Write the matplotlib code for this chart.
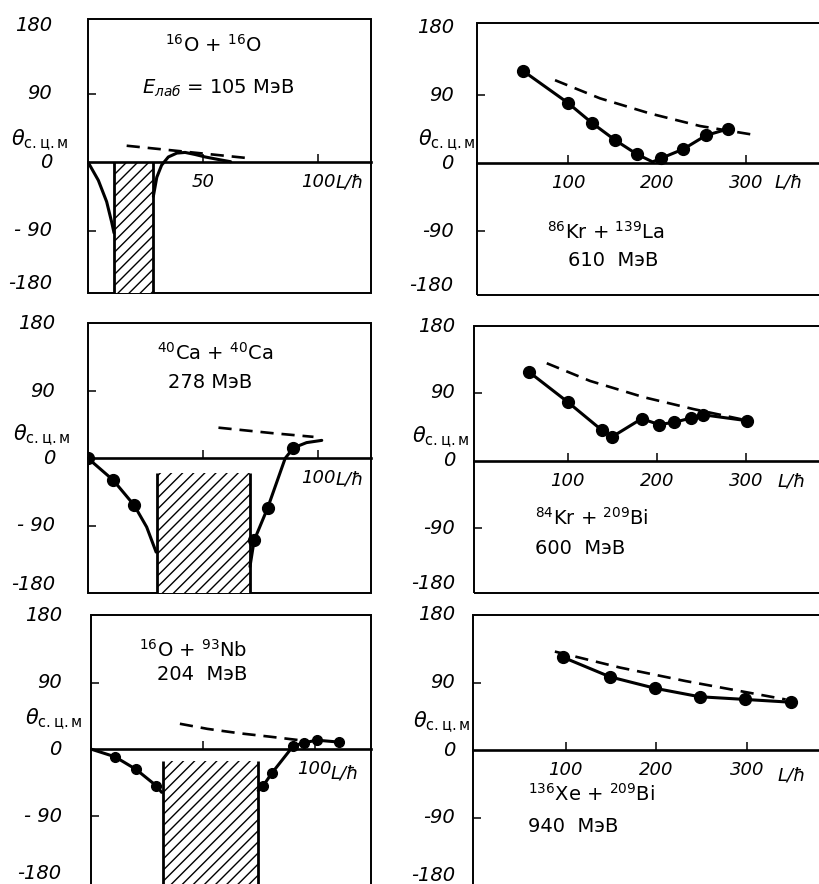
import numpy as np
import matplotlib.pyplot as plt
from matplotlib.transforms import offset_copy
from matplotlib.patches import Rectangle

plt.rcParams['font.family'] = ['DejaVu Sans']
plt.rcParams['mathtext.fontset'] = 'dejavusans'
plt.rcParams['hatch.linewidth'] = 1.0

W, H = 819, 884

# -----------------------------
# Data (L in units of hbar, theta in degrees)
# -----------------------------
# 16O + 16O, 105 MeV
p1_left_L = [0, 4.5, 8.1, 10.3, 11.3]
p1_left_th = [0, -24, -52, -79, -93]
p1_right_L = [28.4, 29.9, 32.0, 34.9, 38.6, 42.2, 46.5, 51.0, 56.7, 62.0]
p1_right_th = [-45, -20, -4, 6.7, 11.8, 12.7, 10, 6.7, 3.4, 0.5]
p1_dash_L = [16.8, 71.2]
p1_dash_th = [21.5, 4.7]
p1_hatch = (11.3, 28.4, 0)

# 40Ca + 40Ca, 278 MeV
p3_left_L = [0, 11, 20.1, 25.5, 29.6]
p3_left_th = [0, -29.4, -63, -92, -125.5]
p3_left_dots_L = [0, 11, 20.1]
p3_left_dots_th = [0, -29.4, -63]
p3_right_L = [70.4, 72.2, 78.1, 85.7, 89.3, 95, 101.6]
p3_right_th = [-145, -110, -66.3, 0, 14, 21, 24]
p3_right_dots_L = [72.2, 78.1, 89.3]
p3_right_dots_th = [-110, -66.3, 14]
p3_dash_L = [56.7, 80, 98]
p3_dash_th = [41, 33.7, 28.7]
p3_hatch = (29.9, 70.4, -20)

# 16O + 93Nb, 204 MeV
p5_left_L = [0, 10.5, 19.9, 28.9, 31.4]
p5_left_th = [0, -10.1, -27, -48.9, -58]
p5_left_dots_L = [10.5, 19.9, 28.9]
p5_left_dots_th = [-10.1, -27, -48.9]
p5_right_L = [74.7, 77, 81, 90.4, 95.2, 101, 111]
p5_right_th = [-55.7, -48.9, -31.5, 4.4, 8.7, 12.3, 9.7]
p5_dash_L = [39.6, 52, 66.5, 80, 94]
p5_dash_th = [34.4, 27.5, 21.5, 17, 12]
p5_hatch = (32.1, 74.7, -16)

# 86Kr + 139La, 610 MeV
p2_dots_L = [48.6, 99.3, 126.4, 152.7, 177.1, 204.2, 229.7, 255.2, 279.7]
p2_dots_th = [122.6, 80.2, 53.7, 30.8, 12.3, 6.6, 18.9, 37, 45.4]
p2_curve_L = [48.6, 99.3, 126.4, 152.7, 177.1, 195, 204.2, 229.7, 255.2, 279.7]
p2_curve_th = [122.6, 80.2, 53.7, 30.8, 12.3, 2, 6.6, 18.9, 37, 45.4]
p2_dash_L = [85, 135.7, 192, 248.5, 310.5]
p2_dash_th = [110, 86, 66, 49.4, 37.5]

# 84Kr + 209Bi, 600 MeV
p4_dots_L = [56.6, 100, 138, 150, 183, 202.4, 219.5, 238.2, 252, 300.7]
p4_dots_th = [117.9, 78, 40.8, 31.8, 55.8, 48, 51, 56.6, 61, 53.2]
p4_dash_L = [76.5, 125, 184.9, 241, 297]
p4_dash_th = [129.5, 106, 84.5, 68.6, 54.5]

# 136Xe + 209Bi, 940 MeV
p6_dots_L = [97, 149, 199, 248, 298.5, 348.7]
p6_dots_th = [123.7, 97.6, 82.3, 71.1, 67.5, 63.8]
p6_dash_L = [88, 159.9, 232.5, 306.5, 343]
p6_dash_th = [131.3, 110, 92, 75.6, 67.5]

y_labels_left = ['180', '90', '0', '- 90', '-180']
y_labels_right = ['180', '90', '0', '-90', '-180']
y_values = [180, 90, 0, -90, -180]

# -----------------------------
# Layout (pixel boxes of the six panels)
# -----------------------------
fig = plt.figure(figsize=(W / 100, H / 100), dpi=100)


def make_axes(x0, y0, x1, y1, xlim, ylim):
    ax = fig.add_axes([x0 / W, 1 - y1 / H, (x1 - x0) / W, (y1 - y0) / H])
    ax.set_xlim(*xlim)
    ax.set_ylim(*ylim)
    for s in ['top', 'right', 'left']:
        ax.spines[s].set_visible(False)
    ax.spines['bottom'].set_position(('data', 0))
    ax.spines['bottom'].set_linewidth(1.9)
    ax.add_patch(Rectangle((0, 0), 1, 1, transform=ax.transAxes, fill=False,
                           lw=1.4, ec='black', clip_on=False))
    ax.set_yticks([-90, 90], ['', ''])
    ax.tick_params(axis='y', direction='in', length=6, width=1.1)
    ax.tick_params(axis='x', direction='in', length=6, width=1.1, pad=8,
                   labelsize=13)
    return ax


def y_labels(ax, labels, off, bottom_gap=12):
    tr = offset_copy(ax.get_yaxis_transform(), fig=fig, x=-off, y=0, units='dots')
    lo, hi = ax.get_ylim()
    for v, s in zip(y_values, labels):
        ax.text(0, np.clip(v, lo + bottom_gap, hi), s, transform=tr, ha='right',
                va='center', fontsize=14, fontstyle='italic')


def ptext(x, y, s, size=14, ha='center', **kw):
    fig.text(x / W, 1 - y / H, s, ha=ha, va='center', fontsize=size, **kw)


def hatch(ax, h):
    lo = ax.get_ylim()[0]
    ax.fill_between([h[0], h[1]], lo, h[2], facecolor='white', edgecolor='black',
                    hatch='///', lw=0, zorder=2)
    ax.vlines([h[0], h[1]], lo, h[2], color='black', lw=2, zorder=3)


def solid(ax, L, th):
    ax.plot(L, th, color='black', lw=2.2, zorder=4, solid_capstyle='round')


def dots(ax, L, th, ms=8.5):
    ax.plot(L, th, 'o', color='black', ms=ms, zorder=5)


def dashed(ax, L, th):
    ax.plot(L, th, color='black', lw=1.9, ls=(0, (5, 3)), zorder=4)


theta_lbl = r'$\theta_{\mathrm{с.ц.м}}$'

# -----------------------------
# Panel 1: 16O + 16O
# -----------------------------
ax1 = make_axes(88, 19, 371, 293, (0, 123), (-172, 188))
ax1.set_xticks([50, 100], ['50', '100'], fontstyle='italic')
hatch(ax1, p1_hatch)
solid(ax1, p1_left_L, p1_left_th)
solid(ax1, p1_right_L, p1_right_th)
dashed(ax1, p1_dash_L, p1_dash_th)
y_labels(ax1, y_labels_left, 36)
ptext(40, 140, theta_lbl, 15)
ptext(350, 183, 'L/ħ', 13, fontstyle='italic')
ptext(213, 45, r'$^{16}$O + $^{16}$O', 14)
ptext(218, 88, r'$E_{\mathit{лаб}}$ = 105 МэВ', 14)

# -----------------------------
# Panel 2: 86Kr + 139La
# -----------------------------
ax2 = make_axes(476.7, 23, 830, 295, (-3.3, 395), (-174, 185.6))
ax2.set_xticks([100, 200, 300], ['100', '200', '300'], fontstyle='italic')
solid(ax2, p2_curve_L, p2_curve_th)
dots(ax2, p2_dots_L, p2_dots_th)
dashed(ax2, p2_dash_L, p2_dash_th)
y_labels(ax2, y_labels_right, 23)
ptext(447, 140, theta_lbl, 15)
ptext(789, 183, 'L/ħ', 13, fontstyle='italic')
ptext(606, 232, r'$^{86}$Kr + $^{139}$La', 14)
ptext(613, 260, '610  МэВ', 14)

# -----------------------------
# Panel 3: 40Ca + 40Ca
# -----------------------------
ax3 = make_axes(88, 322.7, 371, 593, (0, 123), (-180.3, 181.5))
ax3.set_xticks([50, 100], ['', '100'], fontstyle='italic')
hatch(ax3, p3_hatch)
solid(ax3, p3_left_L, p3_left_th)
solid(ax3, p3_right_L, p3_right_th)
dots(ax3, p3_left_dots_L, p3_left_dots_th)
dots(ax3, p3_right_dots_L, p3_right_dots_th)
dashed(ax3, p3_dash_L, p3_dash_th)
y_labels(ax3, y_labels_left, 33)
ptext(42, 435, theta_lbl, 15)
ptext(350, 480, 'L/ħ', 13, fontstyle='italic')
ptext(215, 353, r'$^{40}$Ca + $^{40}$Ca', 14)
ptext(210, 382, '278 МэВ', 14)

# -----------------------------
# Panel 4: 84Kr + 209Bi
# -----------------------------
ax4 = make_axes(474.3, 326, 830, 592.7, (-4.8, 394.3), (-175.5, 179))
ax4.set_xticks([100, 200, 300], ['100', '200', '300'], fontstyle='italic')
solid(ax4, p4_dots_L, p4_dots_th)
dots(ax4, p4_dots_L, p4_dots_th)
dashed(ax4, p4_dash_L, p4_dash_th)
y_labels(ax4, y_labels_right, 19)
ptext(441, 437, theta_lbl, 15)
ptext(792, 482, 'L/ħ', 13, fontstyle='italic')
ptext(535, 518, r'$^{84}$Kr + $^{209}$Bi', 14, ha='left')
ptext(535, 548, '600  МэВ', 14, ha='left')

# -----------------------------
# Panel 5: 16O + 93Nb
# -----------------------------
ax5 = make_axes(90.7, 615, 371, 887, (-0.4, 125.3), (-185.6, 181))
ax5.set_xticks([50, 100], ['', '100'], fontstyle='italic')
hatch(ax5, p5_hatch)
solid(ax5, p5_left_L, p5_left_th)
solid(ax5, p5_right_L, p5_right_th)
dots(ax5, p5_left_dots_L, p5_left_dots_th, ms=7)
dots(ax5, p5_right_L[1:], p5_right_th[1:], ms=7)
dashed(ax5, p5_dash_L, p5_dash_th)
y_labels(ax5, y_labels_left, 29, bottom_gap=18)
ptext(54, 719, theta_lbl, 15)
ptext(345, 773, 'L/ħ', 13, fontstyle='italic')
ptext(193, 650, r'$^{16}$O + $^{93}$Nb', 14)
ptext(202, 674, '204  МэВ', 14)

# -----------------------------
# Panel 6: 136Xe + 209Bi
# -----------------------------
ax6 = make_axes(473.3, 615, 830, 889, (-2.1, 392), (-185, 180))
ax6.set_xticks([100, 200, 300], ['100', '200', '300'], fontstyle='italic')
solid(ax6, p6_dots_L, p6_dots_th)
dots(ax6, p6_dots_L, p6_dots_th)
dashed(ax6, p6_dash_L, p6_dash_th)
y_labels(ax6, y_labels_right, 18, bottom_gap=18)
ptext(442, 722, theta_lbl, 15)
ptext(792, 775, 'L/ħ', 13, fontstyle='italic')
ptext(528, 794, r'$^{136}$Xe + $^{209}$Bi', 14, ha='left')
ptext(528, 827, '940  МэВ', 14, ha='left')

plt.savefig('out.png', dpi=100)
